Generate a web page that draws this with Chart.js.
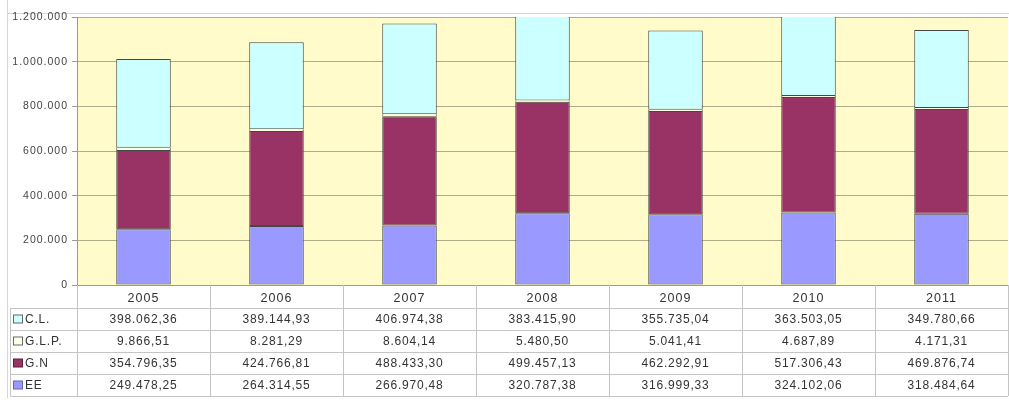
<!DOCTYPE html>
<html>
<head>
<meta charset="utf-8">
<script src="https://cdn.jsdelivr.net/npm/chart.js@4.4.0/dist/chart.umd.min.js"></script>
<style>
html,body{margin:0;padding:0;background:#fff;}
#wrap{width:1009px;height:414px;position:relative;}
</style>
</head>
<body>
<div id="wrap"><canvas id="c" width="1009" height="414"></canvas></div>
<script>
const years = ['2005','2006','2007','2008','2009','2010','2011'];
const seriesCL  = [398062.36, 389144.93, 406974.38, 383415.90, 355735.04, 363503.05, 349780.66];
const seriesGLP = [9866.51, 8281.29, 8604.14, 5480.50, 5041.41, 4687.89, 4171.31];
const seriesGN  = [354796.35, 424766.81, 488433.30, 499457.13, 462292.91, 517306.43, 469876.74];
const seriesEE  = [249478.25, 264314.55, 266970.48, 320787.38, 316999.33, 324102.06, 318484.64];
const seriesNames = ['C.L.', 'G.L.P.', 'G.N', 'EE'];
const yTicks = [0, 200000, 400000, 600000, 800000, 1000000, 1200000];

function fmtInt(n){
  return String(Math.round(n)).replace(/\B(?=(\d{3})+(?!\d))/g, '.');
}
function fmtDec(n){
  const s = n.toFixed(2);
  const parts = s.split('.');
  return parts[0].replace(/\B(?=(\d{3})+(?!\d))/g, '.') + ',' + parts[1];
}

const colors = {
  'C.L.': '#CCFFFF',
  'G.L.P.': '#FFFFE6',
  'G.N': '#993366',
  'EE': '#9999FF'
};

const tableRows = [
  {name:'C.L.', data:seriesCL},
  {name:'G.L.P.', data:seriesGLP},
  {name:'G.N', data:seriesGN},
  {name:'EE', data:seriesEE}
];

const FONT = '"Liberation Sans", Arial, sans-serif';

const bgPlugin = {
  id:'bg',
  beforeDraw(chart){
    const {ctx, chartArea:a} = chart;
    ctx.save();
    ctx.fillStyle = '#FFFBCB';
    ctx.fillRect(a.left, a.top, a.right-a.left, a.bottom-a.top);
    ctx.strokeStyle = '#d6d6d6';
    ctx.lineWidth = 1;
    ctx.beginPath();
    ctx.moveTo(7.5, 0); ctx.lineTo(7.5, 398);
    ctx.moveTo(7.5, 13.5); ctx.lineTo(1009, 13.5);
    ctx.stroke();
    ctx.restore();
    ctx.letterSpacing = '1px';
  },
  afterDatasetsDraw(chart){
    chart.ctx.letterSpacing = '0.8px';
  }
};

const tablePlugin = {
  id:'dtable',
  afterDraw(chart){
    const {ctx, chartArea:a} = chart;
    const xs = chart.scales.x;
    const n = years.length;
    const step = (a.right - a.left)/n;
    const top = a.bottom;
    const headH = 23;
    const rowH = 22;
    const tLeft = 10.5;
    const bottom = top + headH + rowH*tableRows.length;
    ctx.save();
    ctx.strokeStyle = '#c4c4c4';
    ctx.lineWidth = 1;
    ctx.beginPath();
    ctx.moveTo(Math.round(a.left)+0.5, top); ctx.lineTo(Math.round(a.left)+0.5, bottom);
    for(let i=1;i<=n;i++){
      const x = Math.round(xs.getPixelForValue(i-1) + step/2) + 0.5;
      ctx.moveTo(x, top); ctx.lineTo(x, bottom);
    }
    ctx.moveTo(tLeft, top+headH); ctx.lineTo(tLeft, bottom);
    for(let r=0;r<=tableRows.length;r++){
      const y = Math.round(top + headH + r*rowH) + 0.5;
      ctx.moveTo(tLeft, y); ctx.lineTo(a.right, y);
    }
    ctx.stroke();

    ctx.letterSpacing = '0.8px';
    ctx.font = '12px ' + FONT;
    ctx.textBaseline = 'middle';
    tableRows.forEach((row, r)=>{
      const cy = top + headH + r*rowH + rowH/2 + 0.5;
      ctx.fillStyle = colors[row.name];
      ctx.fillRect(13.5, cy-4.5, 9, 8);
      ctx.strokeStyle = row.name==='G.N' ? '#5a1f3a' : (row.name==='EE' ? '#6666aa' : '#666');
      ctx.strokeRect(13.5, cy-4.5, 9, 8);
      ctx.fillStyle = '#333';
      ctx.textAlign = 'left';
      ctx.fillText(row.name, 25, cy);
      ctx.textAlign = 'center';
      row.data.forEach((v,i)=>{
        ctx.fillText(fmtDec(v), xs.getPixelForValue(i), cy);
      });
    });
    ctx.restore();
  }
};

const datasets = [
  {label:'EE', data:seriesEE},
  {label:'G.N', data:seriesGN},
  {label:'G.L.P.', data:seriesGLP},
  {label:'C.L.', data:seriesCL}
].map(d=>({
  label:d.label,
  data:d.data,
  backgroundColor:colors[d.label],
  borderColor:'#404848',
  borderWidth: d.label==='G.L.P.' ? {left:1,right:1,top:0,bottom:0} : 1,
  borderSkipped:false,
  barPercentage:0.41,
  categoryPercentage:1.0
}));

new Chart(document.getElementById('c'), {
  type:'bar',
  data:{labels:years, datasets},
  options:{
    responsive:false,
    animation:false,
    events:[],
    layout:{padding:{left:0, right:1, top:17, bottom:0}},
    plugins:{legend:{display:false}, tooltip:{enabled:false}, title:{display:false}},
    scales:{
      x:{
        stacked:true,
        offset:true,
        grid:{display:false, drawTicks:false},
        border:{display:true, color:'#9a9a9a'},
        ticks:{padding:6, color:'#333', font:{family:FONT, size:12.5}},
        afterFit(scale){ scale.height = 129; }
      },
      y:{
        stacked:true,
        min:0, max:1200000,
        afterBuildTicks(scale){ scale.ticks = yTicks.map(v=>({value:v})); },
        grid:{color:'#b0ab88', tickLength:5, tickColor:'#9a9a9a'},
        border:{display:true, color:'#9a9a9a'},
        ticks:{padding:4, color:'#444', font:{family:FONT, size:10.5},
          callback:(v)=>fmtInt(v)},
        afterFit(scale){ scale.width = 77; }
      }
    }
  },
  plugins:[bgPlugin, tablePlugin]
});
</script>
</body>
</html>
